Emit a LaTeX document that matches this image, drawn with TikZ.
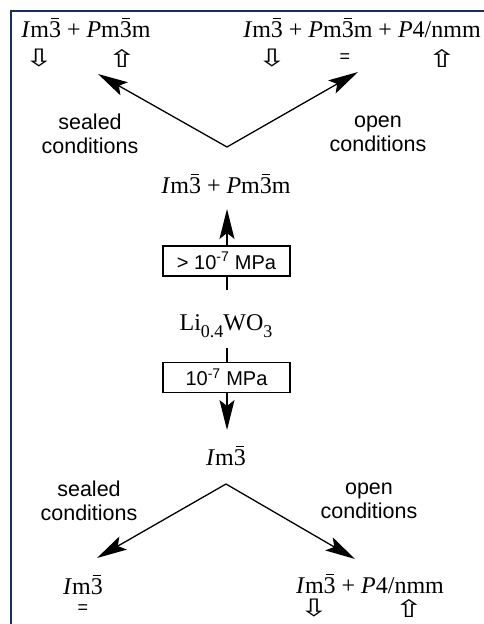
\documentclass[tikz,border=0pt]{standalone}
\usepackage{fontspec}
\usepackage{graphicx}
\setmainfont{Liberation Serif}
\newfontfamily\sansf{Liberation Sans}
\newfontfamily\dvf{DejaVu Sans}
\usetikzlibrary{arrows.meta}
\definecolor{framenavy}{HTML}{1F2A62}
\newcommand\bthree{\makebox[0.5em][c]{\raisebox{0.76em}{\rule{0.34em}{0.05em}}}\hspace{-0.5em}3}
\newcommand\wdn{\scalebox{1.45}[1.0]{⇩}}
\newcommand\wup{\scalebox{1.45}[1.0]{⇧}}
\begin{document}
\begin{tikzpicture}[x=1pt,y=-1pt,
  formula/.style={font=\fontsize{24}{28}\selectfont, inner sep=0pt, anchor=base},
  cond/.style={font=\sansf\fontsize{21.5}{24}\selectfont, align=center, inner sep=0pt},
  pbox/.style={draw, line width=1.2pt, fill=white, minimum width=127pt, minimum height=30pt, inner sep=0pt, font=\sansf\fontsize{20}{22}\selectfont},
  conn/.style={line width=1.3pt, -{Stealth[length=30pt,width=15pt,inset=6pt]}},
  sym/.style={font=\dvf\fontsize{24}{26}\selectfont, inner sep=0pt},
  eqs/.style={font=\sansf\fontsize{18}{20}\selectfont, inner sep=0pt},
]
\useasboundingbox (0,0) rectangle (484,624);
\fill[white] (0,0) rectangle (484,624);
\draw[framenavy, line width=2.2pt] (11,624) -- (11,11) -- (484,11);

% top row
\node[formula] (tl) at (86,37) {\textit{I}m\bthree{} + \textit{P}m\bthree m};
\node[formula] (tr) at (362,37) {\textit{I}m\bthree{} + \textit{P}m\bthree m + \textit{P}4/nmm};
\node[sym] (s1) at (39,58) {\wdn};
\node[sym] (s2) at (122,58) {\wup};
\node[sym] (s3) at (272,58) {\wdn};
\node[eqs] (s4) at (345,58) {=};
\node[sym] (s5) at (442,58) {\wup};

% top fork
\coordinate (apx1) at (227,147);
\coordinate (tipTL) at (98,74);
\coordinate (tipTR) at (358,72);
\draw[conn] (apx1) -- (tipTL);
\draw[conn] (apx1) -- (tipTR);
\node[cond] (c1) at (90,134) {sealed\\conditions};
\node[cond] (c2) at (378,134) {open\\conditions};

% middle
\node[formula] (mid) at (226,193) {\textit{I}m\bthree{} + \textit{P}m\bthree m};
\coordinate (u0) at (227,290);
\coordinate (u1) at (227,209);
\draw[conn] (u0) -- (u1);
\node[pbox] (b1) at (226.5,261) {> 10\textsuperscript{-7} MPa};
\node[formula] (li) at (226,330) {Li\raisebox{-0.3em}{\fontsize{18}{20}\selectfont 0.4}WO\raisebox{-0.3em}{\fontsize{18}{20}\selectfont 3}};
\coordinate (d0) at (227,348);
\coordinate (d1) at (227,430);
\draw[conn] (d0) -- (d1);
\node[pbox] (b2) at (226.5,377.5) {10\textsuperscript{-7} MPa};
\node[formula] (low) at (226,465) {\textit{I}m\bthree};

% bottom fork
\coordinate (apx2) at (226,484);
\coordinate (tipBL) at (97,558);
\coordinate (tipBR) at (355,559);
\draw[conn] (apx2) -- (tipBL);
\draw[conn] (apx2) -- (tipBR);
\node[cond] (c3) at (89,501) {sealed\\conditions};
\node[cond] (c4) at (369,501) {open\\conditions};

\node[formula] (bl) at (83,594) {\textit{I}m\bthree};
\node[eqs] (s6) at (83,609) {=};
\node[formula] (br) at (370,593) {\textit{I}m\bthree{} + \textit{P}4/nmm};
\node[sym] (s7) at (314,608) {\wdn};
\node[sym] (s8) at (409,608) {\wup};
\end{tikzpicture}
\end{document}
